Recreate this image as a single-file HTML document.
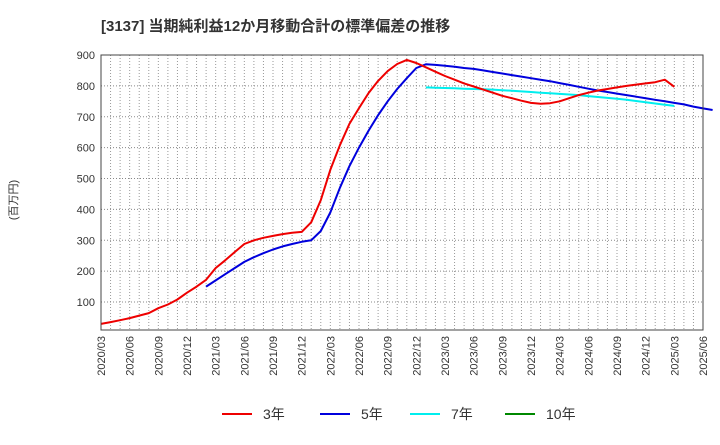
<!DOCTYPE html>
<html><head><meta charset="utf-8"><style>
body{margin:0;background:#fff;font-family:"Liberation Sans","Noto Sans CJK JP",sans-serif;}
svg text{font-family:"Liberation Sans","Noto Sans CJK JP",sans-serif;}
</style></head><body>
<svg id="c" width="720" height="440" xmlns="http://www.w3.org/2000/svg">
<text x="101" y="31" font-size="15" font-weight="bold" fill="#333">[3137]  当期純利益12か月移動合計の標準偏差の推移</text>
<text transform="translate(17,200) rotate(-90)" font-size="11" fill="#333" text-anchor="middle">(百万円)</text>
<g id="grid"></g><g id="series"></g><g id="axes"></g>
<g>
<line x1="222" y1="414" x2="252" y2="414" stroke="#e00" stroke-width="2"/>
<text x="263" y="419" font-size="14" fill="#333">3年</text>
<line x1="320" y1="414" x2="350" y2="414" stroke="#00d" stroke-width="2"/>
<text x="361" y="419" font-size="14" fill="#333">5年</text>
<line x1="410" y1="414" x2="440" y2="414" stroke="#0ee" stroke-width="2"/>
<text x="451" y="419" font-size="14" fill="#333">7年</text>
<line x1="505" y1="414" x2="535" y2="414" stroke="#080" stroke-width="2"/>
<text x="546" y="419" font-size="14" fill="#333">10年</text>
</g>
</svg>
<script>
const yTicks=[100,200,300,400,500,600,700,800,900];
const xLabels=["2020/03","2020/06","2020/09","2020/12","2021/03","2021/06","2021/09","2021/12","2022/03","2022/06","2022/09","2022/12","2023/03","2023/06","2023/09","2023/12","2024/06","2024/06","2024/09","2024/12","2025/03","2025/06"];
xLabels.splice(16,1,"2024/03");
const s3Start=0;
const s3=[29,35,41,48,56,64,80,92,108,130,150,172,210,235,262,288,300,308,314,320,324,327,358,430,528,608,677,728,777,816,848,871,884,874,860,846,832,820,808,798,788,778,768,760,752,745,742,744,750,760,770,778,785,790,795,800,804,808,812,816,822,820,797];
s3.splice(60);s3.push(797);s3.splice(59,1,820);
const s5Start=11;
const s5=[150,170,190,210,230,245,258,270,280,288,295,300,330,390,470,540,600,655,705,750,790,825,858,870,868,865,862,858,855,850,845,840,835,830,825,820,815,809,803,797,791,785,780,775,770,765,760,755,750,745,740,733,727,722];
const s7Start=34;
const s7=[795,794,793,792,791,790,789,788,786,784,782,780,778,776,774,772,770,767,764,761,758,755,751,747,743,739,735];
const X0=101,X1=703,Y0=55,Y1=330,months=63;
function xs(i){return X0+i*(X1-X0)/months;}
function ys(v){return Y0+(900-v)*(302-55)/800;}
const ns="http://www.w3.org/2000/svg";
function mk(t,a,p){const e=document.createElementNS(ns,t);for(const k in a)e.setAttribute(k,a[k]);p.appendChild(e);return e;}
const grid=document.getElementById('grid'),axes=document.getElementById('axes'),ser=document.getElementById('series');
for(let i=1;i<months;i++){const l=mk('line',{x1:xs(i),x2:xs(i),y1:Y0,y2:Y1,stroke:'#999','stroke-width':1,'stroke-dasharray':'1,2'},grid);

}
yTicks.forEach(v=>{const l=mk('line',{x1:X0,x2:X1,y1:ys(v),y2:ys(v),stroke:'#888','stroke-width':1,'stroke-dasharray':'1,2'},grid);


const t=mk('text',{x:X0-6,y:ys(v)+4,'font-size':11,fill:'#333','text-anchor':'end'},axes);t.textContent=v;

});
xLabels.forEach((s,i)=>{const x=xs(i*3);const t=mk('text',{transform:`translate(${x+4},336) rotate(-90)`,'font-size':11,fill:'#333','text-anchor':'end'},axes);t.textContent=s;

});
const fr=mk('rect',{x:X0,y:Y0,width:X1-X0,height:Y1-Y0,fill:'none',stroke:'#444','stroke-width':1},axes);


function line(arr,start,color,name){const p=arr.map((v,i)=>xs(start+i).toFixed(1)+','+ys(v).toFixed(1)).join(' ');
const e=mk('polyline',{points:p,fill:'none',stroke:color,'stroke-width':2,'stroke-linejoin':'round'},ser);

}
line(s7,s7Start,'#0ee','series-7y');
line(s5,s5Start,'#00d','series-5y');
line(s3,s3Start,'#e00','series-3y');
</script>
</body></html>
